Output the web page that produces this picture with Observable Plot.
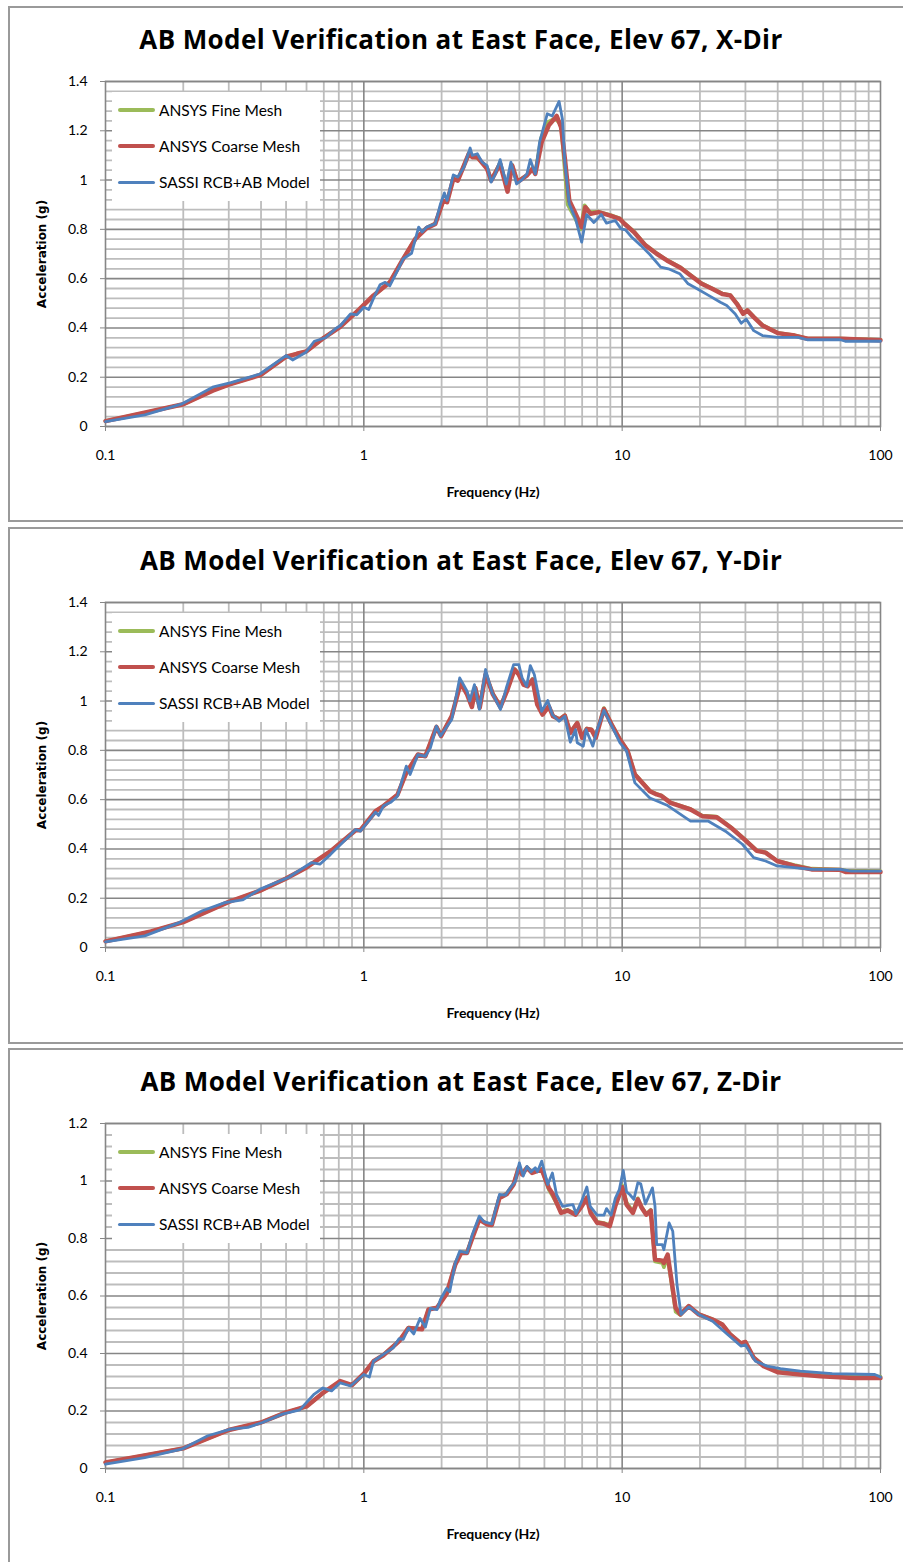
<!DOCTYPE html>
<html><head><meta charset="utf-8">
<script src="https://cdn.jsdelivr.net/npm/d3@7"></script>
<script src="https://cdn.jsdelivr.net/npm/@observablehq/plot@0.6"></script>
<style>
html,body{margin:0;padding:0;background:#fff;width:903px;height:1562px;overflow:hidden;}
.panel{position:absolute;left:8px;width:920px;border:2px solid #9a9a9a;box-sizing:border-box;background:#fff;overflow:hidden;}
.title{position:absolute;left:0;width:902px;top:16px;text-align:center;font:bold 26px/30px "Open Sans", sans-serif;letter-spacing:0.4px;color:#000;white-space:nowrap;}
.chart{position:absolute;left:0;top:49px;}
.legend{position:absolute;left:102px;top:84px;width:208px;height:109px;background:#fff;}
.row{position:absolute;left:0;height:20px;width:208px;}
.sw{position:absolute;left:6px;width:37px;border-radius:2px;}
.lt{position:absolute;left:47px;top:0;font:15.5px/20px Lato, sans-serif;color:#000;white-space:nowrap;}
g[aria-label="y-axis label"] text{font-family:"DejaVu Sans",sans-serif;font-weight:bold;font-size:12px;}
g[aria-label="x-axis label"] text{font-family:Lato,sans-serif;font-weight:bold;font-size:14px;}
</style>
</head><body>
<div id="root"></div>
<script>
// ---------- data ----------
const seriesNames = ["ANSYS Fine Mesh", "ANSYS Coarse Mesh", "SASSI RCB+AB Model"];
const seriesColors = ["#9BBB59", "#C0504D", "#4F81BD"];
const titles = [
  "AB Model Verification at East Face, Elev 67, X-Dir",
  "AB Model Verification at East Face, Elev 67, Y-Dir",
  "AB Model Verification at East Face, Elev 67, Z-Dir"
];
const xTicks = [0.1, 1, 10, 100];
const yTicksXY = [0, 0.2, 0.4, 0.6, 0.8, 1, 1.2, 1.4];
const yTicksZ = [0, 0.2, 0.4, 0.6, 0.8, 1, 1.2];

// X-Dir  [frequency Hz, acceleration g]
const xFine = [[0.1,0.022],[0.14,0.055],[0.2,0.09],[0.26,0.147],[0.3,0.17],[0.4,0.21],[0.5,0.283],[0.55,0.295],[0.6,0.305],[0.7,0.36],[0.81,0.405],[0.96,0.475],[1.09,0.53],[1.26,0.586],[1.42,0.68],[1.58,0.762],[1.75,0.806],[1.89,0.824],[2.03,0.915],[2.1,0.912],[2.22,1.006],[2.31,1.0],[2.55,1.108],[2.63,1.095],[2.75,1.09],[3.0,1.05],[3.11,1.0],[3.37,1.07],[3.6,0.96],[3.75,1.062],[3.93,0.995],[4.28,1.02],[4.5,1.05],[4.61,1.03],[4.85,1.17],[5.15,1.235],[5.5,1.25],[5.8,1.225],[5.95,1.08],[6.15,0.9],[6.5,0.855],[6.9,0.8],[7.15,0.898],[7.5,0.87],[8.1,0.872],[9.0,0.858],[9.78,0.845],[10.2,0.825],[11.1,0.792],[12.3,0.738],[13.6,0.703],[14.9,0.676],[16.8,0.646],[18.4,0.615],[20.3,0.582],[22.3,0.561],[24.4,0.54],[26.2,0.534],[27.8,0.5],[29.4,0.46],[30.5,0.473],[32.3,0.446],[34.9,0.412],[40,0.38],[46.5,0.37],[52.2,0.357],[70.7,0.357],[100,0.352]];
const xCoarse = [[0.1,0.022],[0.14,0.055],[0.2,0.09],[0.26,0.145],[0.3,0.17],[0.4,0.21],[0.5,0.283],[0.55,0.295],[0.6,0.305],[0.7,0.36],[0.81,0.404],[0.96,0.475],[1.09,0.532],[1.26,0.585],[1.42,0.68],[1.58,0.76],[1.75,0.805],[1.89,0.822],[2.03,0.917],[2.1,0.91],[2.22,1.005],[2.31,0.998],[2.55,1.107],[2.63,1.093],[2.75,1.093],[3.0,1.046],[3.11,0.998],[3.37,1.066],[3.6,0.953],[3.75,1.059],[3.93,0.992],[4.28,1.019],[4.5,1.046],[4.61,1.025],[4.88,1.154],[5.2,1.222],[5.58,1.26],[5.8,1.215],[6.0,1.087],[6.24,0.917],[6.6,0.863],[6.97,0.809],[7.2,0.89],[7.55,0.863],[8.1,0.87],[9.0,0.856],[9.78,0.843],[10.2,0.823],[11.1,0.789],[12.3,0.735],[13.6,0.701],[14.9,0.674],[16.8,0.644],[18.4,0.613],[20.3,0.579],[22.3,0.559],[24.4,0.538],[26.2,0.532],[27.8,0.498],[29.4,0.457],[30.5,0.471],[32.3,0.444],[34.9,0.41],[40,0.379],[46.5,0.369],[52.2,0.356],[70.7,0.356],[100,0.35]];
const xSassi = [[0.1,0.02],[0.142,0.047],[0.198,0.092],[0.262,0.161],[0.306,0.178],[0.396,0.213],[0.5,0.288],[0.53,0.27],[0.595,0.3],[0.643,0.346],[0.71,0.36],[0.78,0.398],[0.812,0.41],[0.888,0.457],[0.939,0.453],[1.0,0.484],[1.045,0.475],[1.09,0.52],[1.155,0.575],[1.21,0.585],[1.26,0.571],[1.35,0.633],[1.42,0.68],[1.53,0.703],[1.63,0.809],[1.68,0.789],[1.75,0.809],[1.89,0.822],[1.98,0.903],[2.05,0.948],[2.1,0.917],[2.22,1.021],[2.31,1.012],[2.44,1.052],[2.58,1.13],[2.63,1.1],[2.75,1.107],[2.87,1.073],[3.0,1.059],[3.11,0.992],[3.23,1.025],[3.37,1.083],[3.56,0.984],[3.71,1.073],[3.9,0.984],[4.1,1.002],[4.28,1.025],[4.41,1.083],[4.61,1.025],[4.79,1.154],[5.13,1.269],[5.36,1.26],[5.7,1.319],[5.87,1.248],[6.0,1.073],[6.24,0.903],[6.6,0.842],[6.97,0.748],[7.29,0.86],[7.77,0.828],[8.3,0.86],[8.7,0.825],[9.4,0.836],[9.9,0.802],[10.3,0.798],[10.9,0.768],[11.8,0.735],[12.8,0.698],[14.1,0.647],[15.1,0.64],[16.7,0.62],[18.0,0.579],[19.5,0.559],[21.6,0.532],[24.0,0.504],[25.4,0.491],[27.4,0.457],[28.9,0.419],[30.2,0.436],[32.3,0.389],[34.9,0.369],[40,0.362],[48,0.362],[52,0.352],[70,0.352],[73,0.346],[100,0.346]];

// Y-Dir
const yFine = [[0.1,0.025],[0.15,0.065],[0.2,0.103],[0.3,0.185],[0.4,0.232],[0.5,0.28],[0.6,0.325],[0.742,0.39],[0.93,0.476],[0.97,0.477],[1.11,0.552],[1.19,0.575],[1.35,0.62],[1.46,0.71],[1.62,0.783],[1.73,0.777],[1.91,0.896],[1.99,0.86],[2.19,0.94],[2.37,1.076],[2.51,1.03],[2.62,0.978],[2.7,1.055],[2.81,0.975],[2.96,1.11],[3.16,1.03],[3.38,0.978],[3.58,1.042],[3.83,1.13],[3.98,1.11],[4.15,1.07],[4.3,1.062],[4.5,1.09],[4.69,0.99],[4.92,0.948],[5.2,0.98],[5.4,0.94],[5.72,0.927],[6.0,0.943],[6.3,0.873],[6.7,0.913],[7.0,0.853],[7.3,0.889],[7.6,0.886],[7.9,0.853],[8.5,0.972],[9.1,0.907],[9.8,0.846],[10.5,0.799],[11.2,0.704],[12.8,0.636],[13.6,0.623],[14.2,0.617],[15.4,0.589],[18.4,0.562],[20.4,0.535],[23.2,0.531],[26.4,0.488],[29.2,0.448],[33.2,0.394],[35.9,0.386],[39.8,0.352],[46.4,0.335],[54.1,0.32],[69.9,0.316],[73.6,0.312],[100,0.31]];
const yCoarse = [[0.1,0.025],[0.15,0.065],[0.2,0.103],[0.3,0.185],[0.4,0.232],[0.5,0.28],[0.6,0.325],[0.742,0.39],[0.93,0.476],[0.97,0.476],[1.11,0.553],[1.19,0.574],[1.35,0.62],[1.46,0.709],[1.62,0.783],[1.73,0.776],[1.91,0.895],[1.99,0.858],[2.19,0.939],[2.37,1.074],[2.51,1.027],[2.62,0.976],[2.7,1.053],[2.81,0.973],[2.96,1.108],[3.16,1.027],[3.38,0.976],[3.58,1.04],[3.83,1.128],[3.98,1.108],[4.15,1.067],[4.3,1.06],[4.5,1.087],[4.69,0.986],[4.92,0.945],[5.2,0.979],[5.4,0.938],[5.72,0.925],[6.0,0.941],[6.3,0.871],[6.7,0.911],[7.0,0.851],[7.3,0.887],[7.6,0.884],[7.9,0.851],[8.5,0.968],[9.1,0.905],[9.8,0.844],[10.5,0.797],[11.2,0.702],[12.8,0.634],[13.6,0.621],[14.2,0.615],[15.4,0.587],[18.4,0.56],[20.4,0.533],[23.2,0.529],[26.4,0.486],[29.2,0.446],[33.2,0.392],[35.9,0.385],[39.8,0.351],[46.4,0.331],[54.1,0.317],[69.9,0.315],[73.6,0.306],[100,0.306]];
const ySassi = [[0.1,0.023],[0.142,0.047],[0.193,0.101],[0.237,0.149],[0.29,0.182],[0.339,0.193],[0.395,0.236],[0.51,0.284],[0.626,0.344],[0.676,0.338],[0.742,0.377],[0.837,0.431],[0.93,0.479],[0.97,0.472],[1.11,0.549],[1.14,0.536],[1.19,0.574],[1.27,0.589],[1.35,0.614],[1.46,0.736],[1.51,0.702],[1.62,0.783],[1.73,0.776],[1.81,0.81],[1.91,0.898],[1.98,0.858],[2.19,0.925],[2.35,1.094],[2.51,1.04],[2.57,1.0],[2.68,1.067],[2.8,0.966],[2.96,1.128],[3.14,1.033],[3.38,0.966],[3.56,1.053],[3.8,1.148],[3.98,1.148],[4.1,1.094],[4.27,1.06],[4.41,1.144],[4.57,1.108],[4.88,0.958],[5.15,1.002],[5.37,0.945],[5.7,0.918],[6.0,0.938],[6.3,0.833],[6.6,0.884],[6.7,0.831],[7.07,0.817],[7.25,0.884],[7.7,0.817],[8.0,0.884],[8.5,0.962],[9.1,0.9],[9.8,0.831],[10.4,0.797],[11.2,0.668],[12.8,0.607],[15,0.576],[18.4,0.513],[21.5,0.513],[25.1,0.472],[29.2,0.419],[32.3,0.365],[35.9,0.351],[39.8,0.331],[46.4,0.324],[54.1,0.317],[70,0.317],[77,0.31],[100,0.31]];

// Z-Dir
const zFine = [[0.1,0.021],[0.2,0.07],[0.3,0.134],[0.4,0.16],[0.5,0.195],[0.6,0.216],[0.7,0.265],[0.81,0.303],[0.9,0.29],[1.0,0.33],[1.09,0.373],[1.19,0.395],[1.37,0.444],[1.49,0.49],[1.68,0.485],[1.78,0.554],[1.92,0.56],[2.09,0.608],[2.26,0.712],[2.38,0.752],[2.51,0.752],[2.63,0.804],[2.8,0.868],[3.0,0.851],[3.13,0.849],[3.35,0.943],[3.58,0.957],[3.8,0.99],[3.98,1.048],[4.1,1.025],[4.28,1.048],[4.48,1.03],[4.68,1.036],[4.88,1.042],[5.2,0.97],[5.4,0.945],[5.8,0.893],[6.15,0.9],[6.6,0.886],[6.97,0.915],[7.3,0.944],[7.55,0.892],[8.0,0.858],[8.5,0.854],[8.95,0.846],[9.4,0.915],[10.0,0.985],[10.4,0.925],[11.0,0.895],[11.5,0.94],[11.9,0.91],[12.4,0.885],[12.9,0.9],[13.4,0.72],[14.3,0.715],[14.5,0.7],[15.0,0.735],[16.1,0.545],[16.8,0.534],[18.1,0.565],[19.8,0.537],[22.4,0.519],[24.4,0.502],[26.2,0.467],[28.8,0.436],[30,0.441],[32.3,0.386],[35.3,0.358],[40,0.34],[49,0.333],[58.6,0.327],[78.9,0.322],[100,0.32]];
const zCoarse = [[0.1,0.021],[0.2,0.07],[0.3,0.134],[0.4,0.16],[0.5,0.195],[0.6,0.216],[0.7,0.265],[0.81,0.304],[0.9,0.29],[1.0,0.33],[1.09,0.373],[1.19,0.394],[1.37,0.443],[1.49,0.489],[1.68,0.484],[1.78,0.553],[1.92,0.559],[2.09,0.607],[2.26,0.71],[2.38,0.75],[2.51,0.75],[2.63,0.802],[2.8,0.866],[3.0,0.849],[3.13,0.847],[3.35,0.941],[3.58,0.955],[3.8,0.988],[3.98,1.046],[4.1,1.023],[4.28,1.046],[4.48,1.028],[4.68,1.034],[4.88,1.04],[5.2,0.976],[5.4,0.953],[5.8,0.889],[6.15,0.897],[6.6,0.883],[6.97,0.912],[7.3,0.941],[7.55,0.889],[8.0,0.855],[8.5,0.851],[8.95,0.843],[9.4,0.912],[10.0,0.979],[10.4,0.918],[11.0,0.889],[11.5,0.936],[11.9,0.907],[12.4,0.883],[12.9,0.897],[13.4,0.727],[14.3,0.723],[14.5,0.715],[15.0,0.744],[16.1,0.559],[16.8,0.536],[18.1,0.565],[19.8,0.536],[22.4,0.518],[24.4,0.501],[26.2,0.466],[28.8,0.435],[30,0.44],[32.3,0.385],[35.3,0.356],[40,0.335],[49,0.327],[58.6,0.321],[78.9,0.315],[100,0.315]];
const zSassi = [[0.1,0.015],[0.142,0.038],[0.197,0.067],[0.249,0.114],[0.305,0.137],[0.356,0.143],[0.405,0.16],[0.484,0.189],[0.565,0.204],[0.643,0.259],[0.694,0.28],[0.75,0.27],[0.81,0.298],[0.888,0.287],[1.0,0.327],[1.05,0.318],[1.09,0.373],[1.19,0.397],[1.3,0.42],[1.37,0.452],[1.42,0.449],[1.49,0.489],[1.56,0.468],[1.65,0.522],[1.73,0.492],[1.81,0.557],[1.92,0.553],[1.98,0.588],[2.09,0.626],[2.15,0.615],[2.26,0.716],[2.35,0.756],[2.51,0.75],[2.63,0.814],[2.8,0.878],[2.92,0.858],[3.13,0.851],[3.35,0.953],[3.53,0.951],[3.69,0.976],[3.86,0.999],[4.0,1.063],[4.14,1.017],[4.28,1.051],[4.44,1.032],[4.61,1.046],[4.7,1.032],[4.88,1.069],[5.15,0.988],[5.37,1.028],[5.57,0.953],[5.88,0.912],[6.24,0.916],[6.45,0.918],[6.63,0.886],[6.97,0.93],[7.3,0.979],[7.52,0.912],[8.0,0.881],[8.5,0.881],[8.7,0.904],[9.06,0.881],[9.4,0.939],[9.75,0.97],[10.1,1.037],[10.4,0.962],[10.7,0.953],[11.1,0.936],[11.5,0.994],[11.8,0.99],[12.3,0.92],[13.1,0.976],[13.4,0.912],[13.6,0.779],[14.3,0.779],[14.5,0.761],[15.2,0.854],[15.7,0.825],[16.3,0.64],[16.9,0.536],[18.1,0.562],[19.8,0.536],[22.4,0.512],[25.6,0.466],[28.8,0.426],[30,0.43],[32.8,0.373],[36.4,0.356],[41,0.347],[49,0.339],[65,0.33],[95,0.327],[100,0.318]];

// ---------- layout ----------
const panelTops = [6, 527, 1048];
const panelHeights = [516, 517, 520];
const W = 893, H = 460, ML = 95, MR = 23, MT = 24, MB = 91;
const seriesWidths = [3.6, 4.5, 2.8];

const panels = [
  {title: titles[0], series: [xFine, xCoarse, xSassi], yTicks: yTicksXY},
  {title: titles[1], series: [yFine, yCoarse, ySassi], yTicks: yTicksXY},
  {title: titles[2], series: [zFine, zCoarse, zSassi], yTicks: yTicksZ}
];

const root = document.getElementById("root");
const minorX = [0.1, 1, 10].flatMap(d => [2,3,4,5,6,7,8,9].map(k => +(k * d).toPrecision(3)));
const majorX = [1, 10];

panels.forEach((p, i) => {
  const div = document.createElement("div");
  div.className = "panel";
  div.style.top = panelTops[i] + "px";
  div.style.height = panelHeights[i] + "px";
  const t = document.createElement("div");
  t.className = "title";
  t.textContent = p.title;
  div.appendChild(t);

  const yMax = p.yTicks[p.yTicks.length - 1];
  const nMinor = Math.round(yMax / 0.04);
  const minorY = d3.range(0, nMinor + 1).map(k => +(k * 0.04).toFixed(2)).filter(v => Math.round(v * 100) % 20 !== 0);

  const lineMarks = p.series.map((s, j) => Plot.line(s, {
    x: d => d[0], y: d => d[1], stroke: seriesColors[j], strokeWidth: seriesWidths[j],
    strokeLinejoin: "round", strokeLinecap: "round"
  }));

  const svg = Plot.plot({
    width: W, height: H,
    marginLeft: ML, marginRight: MR, marginTop: MT, marginBottom: MB,
    style: {fontFamily: "Lato, sans-serif", fontSize: "14px", color: "#000", background: "transparent", overflow: "visible"},
    x: {type: "log", domain: [0.1, 100]},
    y: {domain: [0, yMax]},
    marks: [
      Plot.ruleX(minorX, {stroke: "#bdbdbd", strokeWidth: 1.8}),
      Plot.ruleY(minorY, {stroke: "#bdbdbd", strokeWidth: 1.8}),
      Plot.ruleX(majorX, {stroke: "#868686", strokeWidth: 1.6}),
      Plot.ruleY(p.yTicks, {stroke: "#868686", strokeWidth: 1.6}),
      Plot.frame({stroke: "#868686", strokeWidth: 1.6}),
      Plot.axisX(xTicks, {tickFormat: d => String(d), tickSize: 5, tickPadding: 19, stroke: "#868686",
        label: "Frequency (Hz)", labelAnchor: "center", labelArrow: "none", labelOffset: 70}),
      Plot.axisY(p.yTicks, {tickFormat: d => String(Math.round(d * 10) / 10), tickSize: 5, tickPadding: 13, stroke: "#868686",
        label: "Acceleration (g)", labelAnchor: "center", labelArrow: "none", labelOffset: 68}),
      ...lineMarks
    ]
  });
  const holder = document.createElement("div");
  holder.className = "chart";
  holder.appendChild(svg);
  div.appendChild(holder);

  const leg = document.createElement("div");
  leg.className = "legend";
  const rowTops = [8, 44, 80];
  seriesNames.forEach((name, j) => {
    const row = document.createElement("div");
    row.className = "row";
    row.style.top = rowTops[j] + "px";
    const sw = document.createElement("div");
    sw.className = "sw";
    const h = [3.5, 4.5, 3][j];
    sw.style.height = h + "px";
    sw.style.top = (10 - h / 2) + "px";
    sw.style.background = seriesColors[j];
    const lt = document.createElement("div");
    lt.className = "lt";
    lt.textContent = name;
    row.appendChild(sw); row.appendChild(lt);
    leg.appendChild(row);
  });
  div.appendChild(leg);
  root.appendChild(div);
});
</script>
</body></html>
